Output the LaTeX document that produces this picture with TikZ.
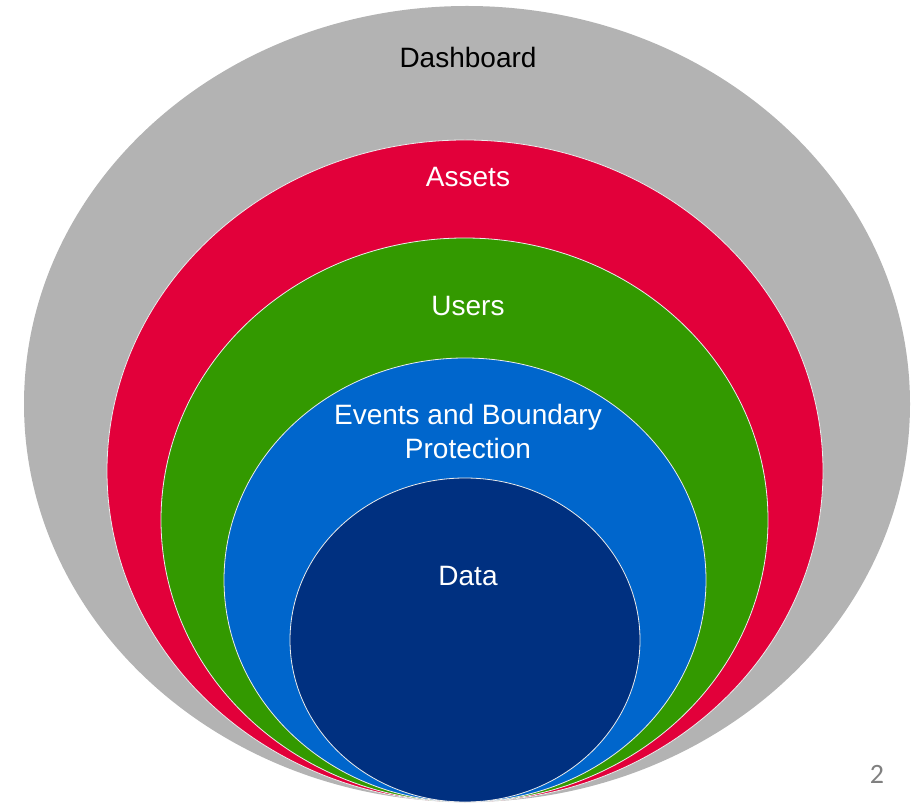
\documentclass[tikz,border=0pt]{standalone}
\usepackage{fontspec}
\setmainfont{Liberation Sans}
\newfontfamily\pagefont{Carlito}
\definecolor{dashgray}{RGB}{179,179,179}
\definecolor{assetred}{RGB}{226,0,58}
\definecolor{usergreen}{RGB}{51,153,0}
\definecolor{eventblue}{RGB}{0,102,204}
\definecolor{datanavy}{RGB}{0,48,128}
\begin{document}
\begin{tikzpicture}[x=1pt, y=1pt,
  layer/.style={draw=white!85!gray, line width=0.8pt},
  lbl/.style={anchor=base, font=\fontsize{28}{34}\selectfont, text=white, align=center, inner sep=0pt}]
  \useasboundingbox (0,0) rectangle (918,806);
  % --- rings, outer to inner, all touching at the bottom ---
  \fill[dashgray] (467,402) ellipse [x radius=443, y radius=398];
  \filldraw[layer, fill=assetred] (465,335) ellipse [x radius=358, y radius=331];
  \filldraw[layer, fill=usergreen] (464.5,286) ellipse [x radius=303.5, y radius=282];
  \filldraw[layer, fill=eventblue] (465,226) ellipse [x radius=241, y radius=222];
  \filldraw[layer, fill=datanavy] (465,166) ellipse [x radius=175, y radius=162];
  % --- labels ---
  \node[lbl, text=black] (dashboard) at (468,738) {Dashboard};
  \node[lbl] (assets) at (468,619) {Assets};
  \node[lbl] (users) at (468,490) {Users};
  \node[lbl] (events) at (468,381) {Events and Boundary};
  \node[lbl] (protection) at (468,347) {Protection};
  \node[lbl] (data) at (468,220) {Data};
  % page number
  \node[font=\pagefont\fontsize{28}{32}\selectfont, text=gray, anchor=base] (pageno) at (877,23) {2};
\end{tikzpicture}
\end{document}
